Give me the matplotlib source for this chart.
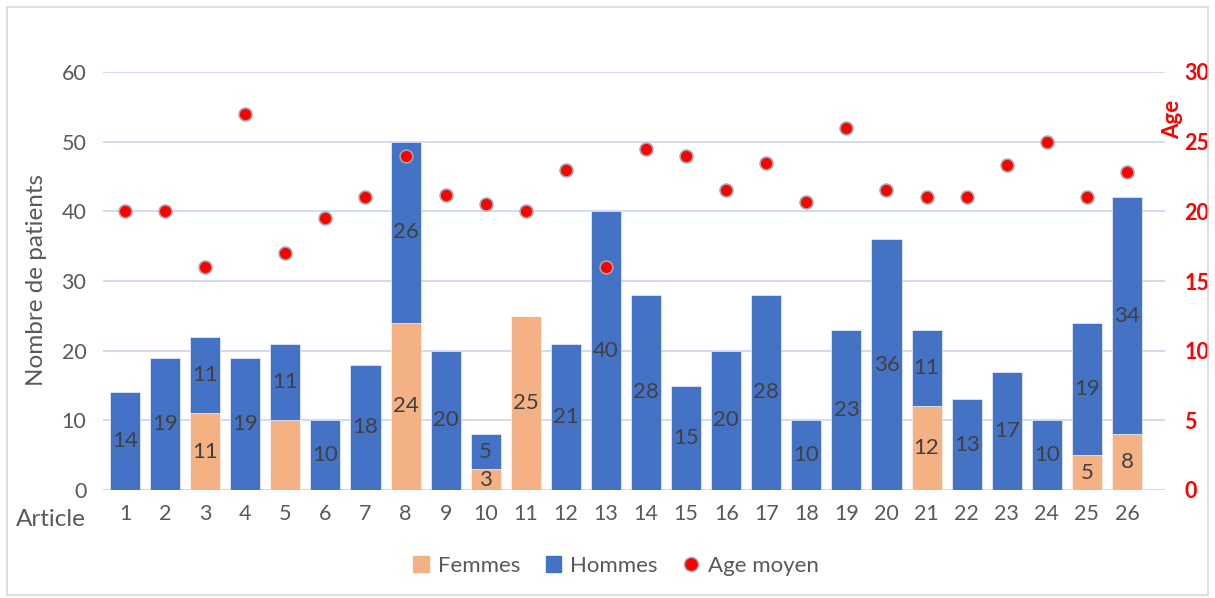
import matplotlib
matplotlib.use("Agg")
import matplotlib.pyplot as plt
from matplotlib.patches import Rectangle
from matplotlib.lines import Line2D
import numpy as np

plt.rcParams['font.family'] = ['Lato', 'DejaVu Sans']

articles = [str(i) for i in range(1, 27)]
femmes = [0, 0, 11, 0, 10, 0, 0, 24, 0, 3, 25, 0, 0, 0, 0, 0, 0, 0, 0, 0, 12, 0, 0, 0, 5, 8]
hommes = [14, 19, 11, 19, 11, 10, 18, 26, 20, 5, 0, 21, 40, 28, 15, 20, 28, 10, 23, 36, 11, 13, 17, 10, 19, 34]
age_moyen = [20, 20, 16, 27, 17, 19.5, 21, 24, 21.2, 20.5, 20, 23, 16, 24.5, 24, 21.5, 23.5, 20.7, 26, 21.5, 21, 21, 23.3, 25, 21, 22.8]
# labels shown on female segments (Excel hid the one of article 5)
femmes_labels = ['', '', '11', '', '', '', '', '24', '', '3', '25', '', '', '', '', '', '', '', '', '', '12', '', '', '', '5', '8']

W, H = 1215, 598
fig = plt.figure(figsize=(W / 100, H / 100), dpi=100)
ax = fig.add_axes([103 / W, 1 - 490 / H, (1165 - 103) / W, (490 - 72) / H])
ax2 = ax.twinx()

x = np.arange(1, 27)
blue = '#4472C4'
orange = '#F4B183'
txt = '#595959'
lab = '#404040'

ax.bar(x, femmes, width=0.75, color=orange, edgecolor='white', linewidth=0.4, zorder=2)
ax.bar(x, hommes, width=0.75, bottom=femmes, color=blue, edgecolor='white', linewidth=0.4, zorder=2)

for xi, f, h, fl in zip(x, femmes, hommes, femmes_labels):
    if fl:
        ax.text(xi, f / 2, fl, ha='center', va='center', fontsize=16, color=lab, zorder=3)
    if h > 0:
        ax.text(xi, f + h / 2, str(h), ha='center', va='center', fontsize=16, color=lab, zorder=3)

ax.set_xlim(0.45, 26.95)
ax.set_ylim(0, 60)
ax.set_yticks(range(0, 61, 10))
ax.set_xticks(x)
ax.set_xticklabels(articles)
ax.tick_params(axis='both', length=0, labelsize=15.5, colors=txt)
ax.tick_params(axis='y', pad=12)
ax.tick_params(axis='x', pad=10)
for s in ax.spines.values():
    s.set_visible(False)
ax.grid(axis='y', color='#C9D5EC', linewidth=1.2, zorder=0)
ax.set_axisbelow(True)
ax.axhline(0, color='#D9D9D9', linewidth=1.5, zorder=1)

ax2.scatter(x, age_moyen, s=85, color='#FF0000', edgecolor='#A6A6A6', linewidth=1.2, zorder=5)
ax2.set_ylim(0, 30)
ax2.set_yticks(range(0, 31, 5))
ax2.tick_params(axis='y', length=0, labelsize=15.5, colors='#FF0000', pad=14)
for t in ax2.get_yticklabels():
    t.set_fontweight('bold')
for s in ax2.spines.values():
    s.set_visible(False)

fig.text(37 / W, 1 - 280 / H, 'Nombre de patients', rotation=90, ha='center', va='center', fontsize=17.5, color=txt)
fig.text(51 / W, 1 - 520 / H, 'Article', ha='center', va='center', fontsize=17.5, color=txt)
fig.text(1173 / W, 1 - 119 / H, 'Age', rotation=90, ha='center', va='center', fontsize=16, color='#FF0000', fontweight='bold')

handles = [
    Rectangle((0, 0), 1, 1, color=orange),
    Rectangle((0, 0), 1, 1, color=blue),
    Line2D([], [], marker='o', linestyle='none', markerfacecolor='#FF0000', markeredgecolor='#A6A6A6', markersize=10),
]
leg = fig.legend(handles, ['Femmes', 'Hommes', 'Age moyen'], loc='center', bbox_to_anchor=(616 / W, 1 - 566 / H),
                 ncol=3, frameon=False, fontsize=16, handlelength=0.7, handleheight=0.7, columnspacing=1.15, handletextpad=0.4)
for t in leg.get_texts():
    t.set_color(txt)

fig.patches.append(Rectangle((7 / W, 3 / H), (W - 14) / W, (H - 10) / H, transform=fig.transFigure,
                             fill=False, edgecolor='#D9D9D9', linewidth=1.2))

fig.savefig('out.png', dpi=100)
